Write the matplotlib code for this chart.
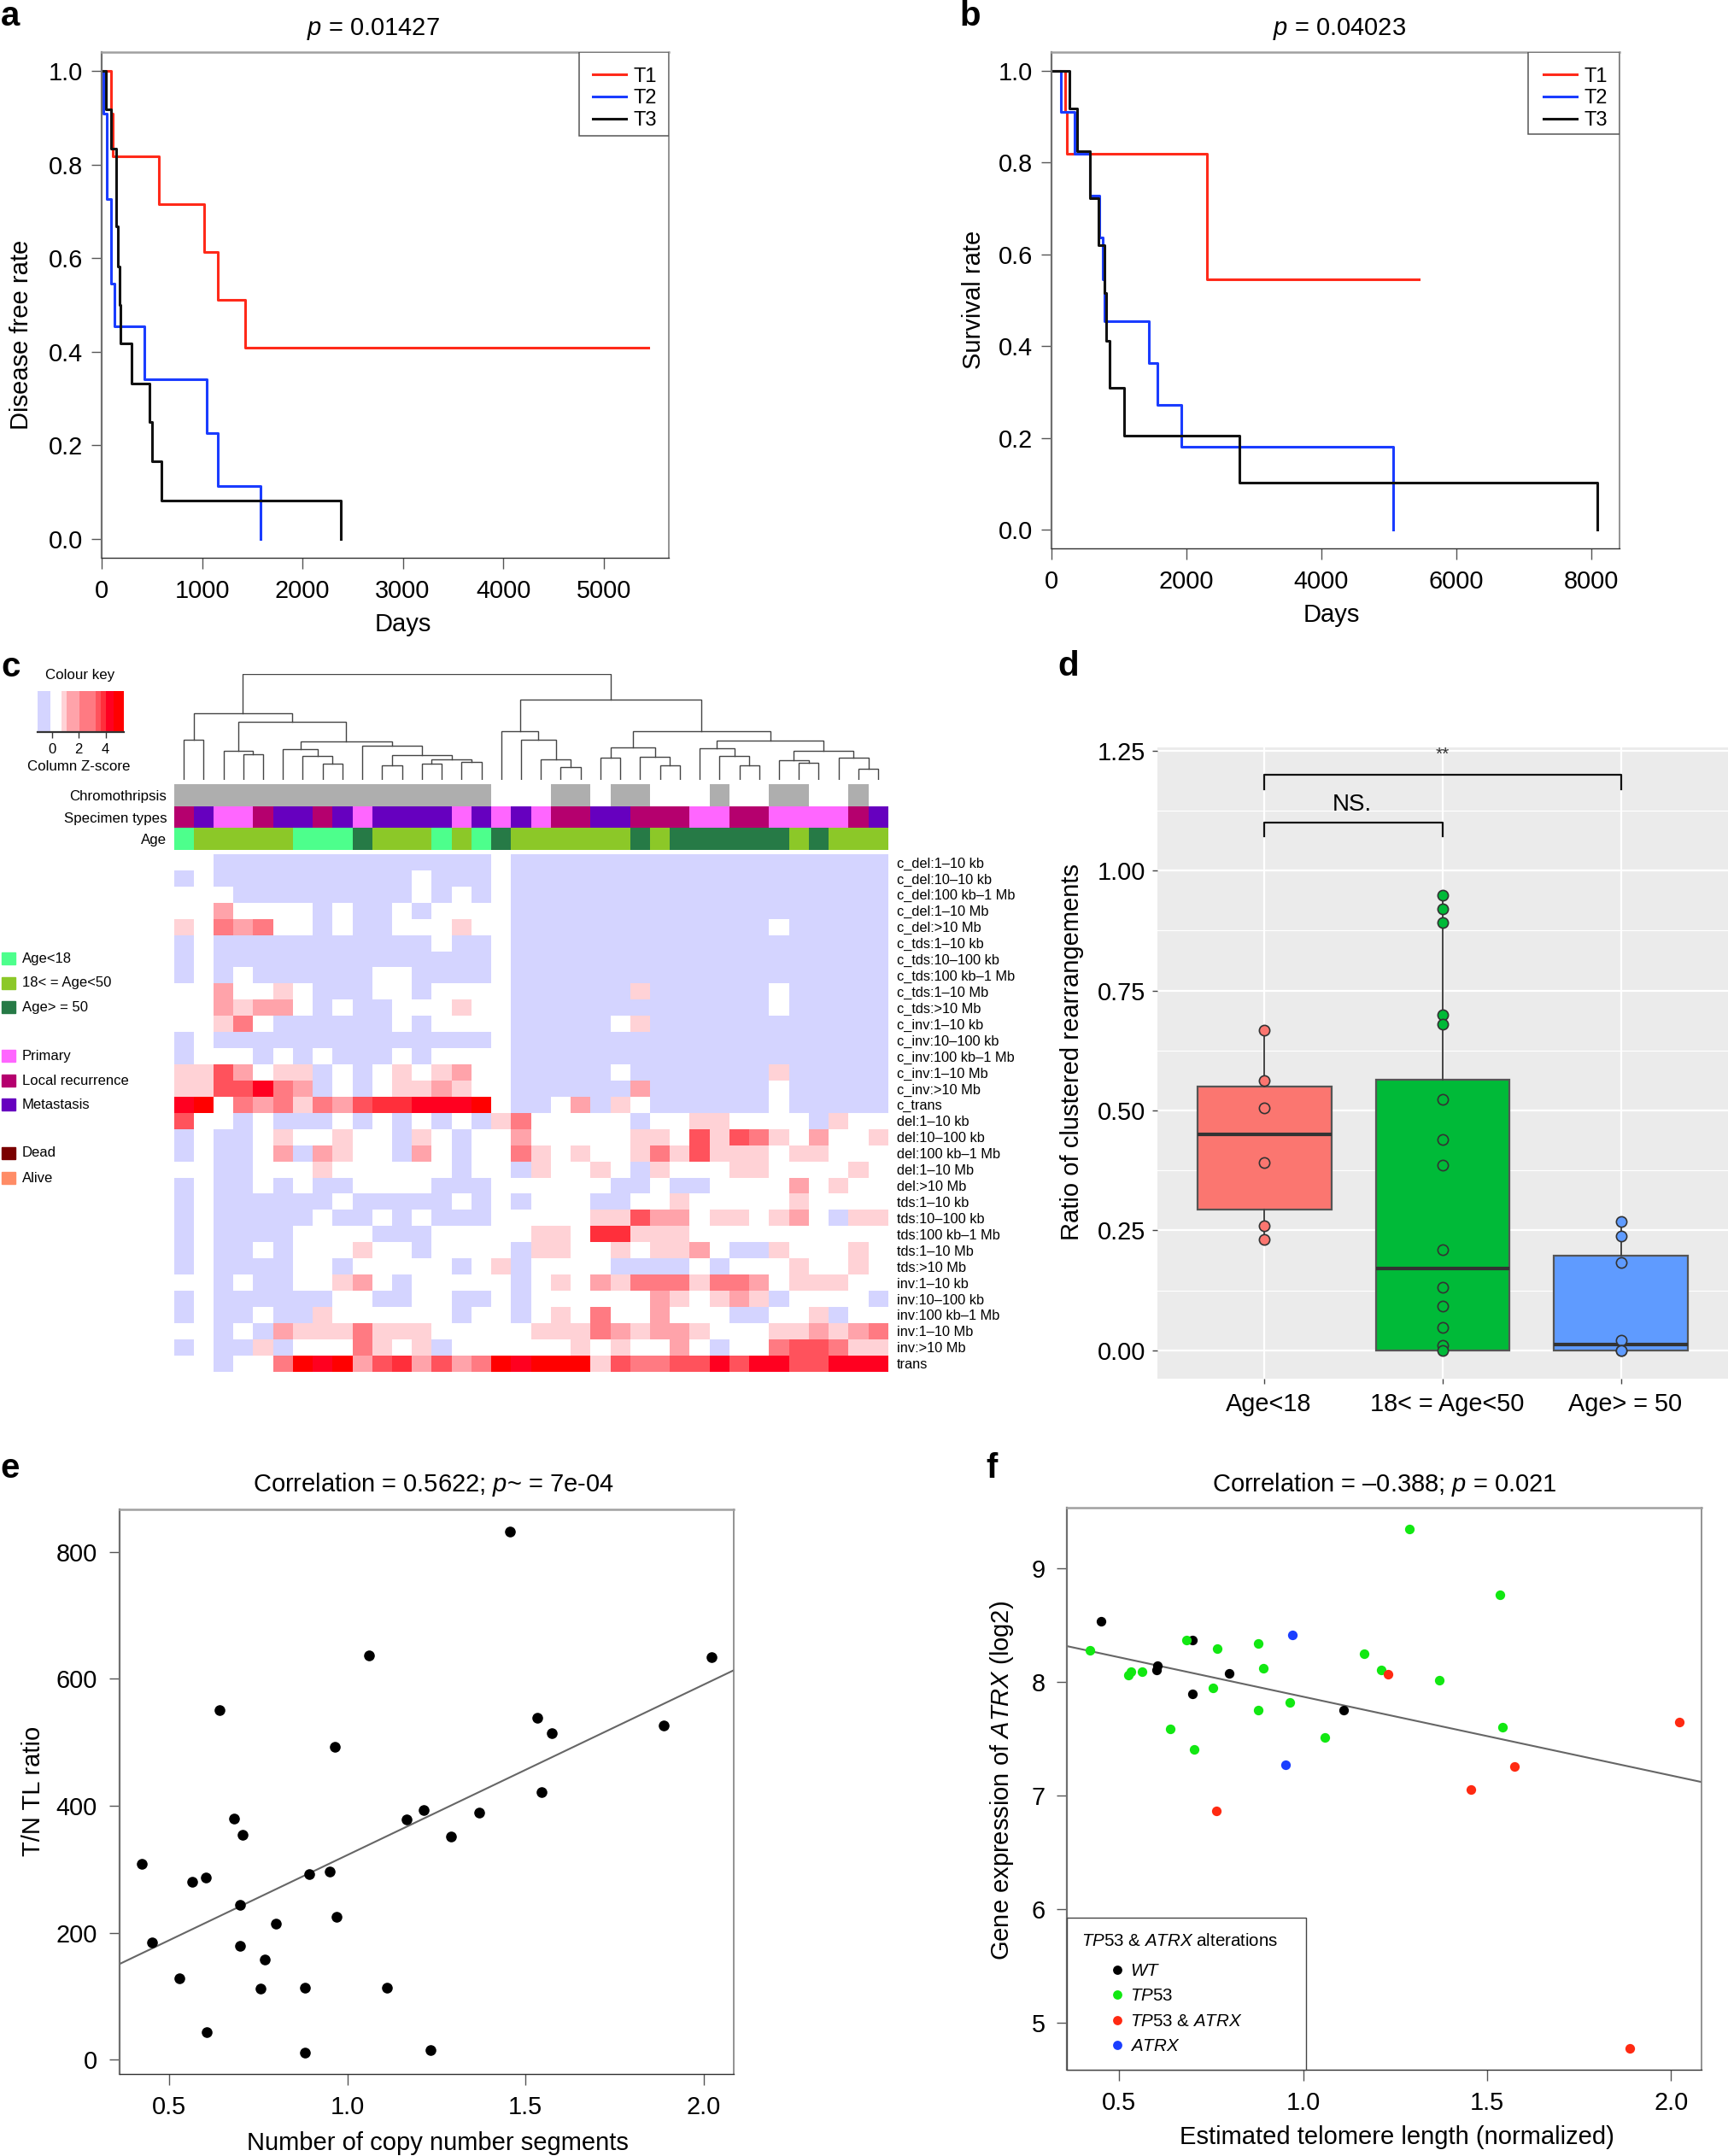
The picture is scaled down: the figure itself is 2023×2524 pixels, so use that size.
from matplotlib import pyplot as plt
from matplotlib.colors import ListedColormap
from matplotlib.lines import Line2D
from matplotlib.patches import Rectangle
from matplotlib.transforms import ScaledTranslation
import numpy as np

plt.rcParams['font.family'] = ['Liberation Sans', 'DejaVu Sans']
plt.rcParams['mathtext.fontset'] = 'custom'
plt.rcParams['mathtext.rm'] = 'Liberation Sans'
plt.rcParams['mathtext.it'] = 'Liberation Sans:italic'
plt.rcParams['mathtext.bf'] = 'Liberation Sans:bold'

W, H = 2023, 2524

# panel a: disease free
a_t1_days = [0, 95, 113, 569, 1025, 1160, 1429, 5443]
a_t1_rate = [1.0, 0.909, 0.818, 0.716, 0.614, 0.511, 0.409, 0.409]
a_t2_days = [0, 17, 48, 52, 96, 130, 426, 1043, 1160, 1581]
a_t2_rate = [1.0, 0.909, 0.818, 0.727, 0.545, 0.4545, 0.341, 0.227, 0.114, 0.0]
a_t3_days = [0, 43, 91, 148, 165, 182, 191, 300, 478, 500, 595, 2380]
a_t3_rate = [1.0, 0.917, 0.833, 0.667, 0.583, 0.5, 0.417, 0.333, 0.25, 0.167, 0.083, 0.0]

# panel b: survival
b_t1_days = [0, 200, 225, 2299, 5443]
b_t1_rate = [1.0, 0.909, 0.818, 0.545, 0.545]
b_t2_days = [0, 136, 342, 568, 704, 762, 781, 1440, 1569, 1924, 5062]
b_t2_rate = [1.0, 0.909, 0.818, 0.727, 0.636, 0.545, 0.4545, 0.364, 0.273, 0.182, 0.0]
b_t3_days = [0, 265, 381, 568, 697, 781, 807, 865, 1078, 2783, 8090]
b_t3_rate = [1.0, 0.917, 0.825, 0.722, 0.619, 0.516, 0.412, 0.31, 0.206, 0.103, 0.0]

# panel c: heatmap, b = below zero, 0 = white, 1-7 = red levels
heat_rows = [
    "00 bbbbbbbbbbbbbb 0 bbbbbbbbbbbbbbbbbbb",
    "b0 bbbbbbbbbb 0 bbb 0 bbbbbbbbbbbbbbbbbbb",
    "000 bbbbbbbbb 0 b 0 b 0 bbbbbbbbbbbbbbbbbbb",
    "00 2 0000 b 0 bb 0 b 0000 bbbbbbbbbbbbbbbbbbb",
    "1 0 3 2 3 00 b 0 bb 000 1 00 bbbbbbbbbbbbb 0 bbbbb",
    "b0 bbbbbbbbbbb 0 bb 0 bbbbbbbbbbbbbbbbbbb",
    "b0 bbbbbbbbbbbbbb 0 bbbbbbbbbbbbbbbbbbb",
    "b0 b 0 bbbbbb 00 bbbb 0 bbbbbbbbbbbbbbbbbbb",
    "00 2 00 1 0 bbb 00 b 0000 bbbbbb 1 bbbbbb 0 bbbbb",
    "00 2 1 22 0 b 0 bb 000 1 00 bbbbbbbbbbbbb 0 bbbbb",
    "00 1 3 0 bbbbbb 0 b 0000 bbbbb 0 1 bbbbbbbbbbbb",
    "b0 bbbbbbbbbbbbbb 0 bbbbbbbbbbbbbbbbbbb",
    "b 000 b 0 b 0 bbb 0 b 0000 bbbbbbbbbbbbbbbbbbb",
    "11 4 2 0 11 b 0 b 0 1 0 1 2 00 bbbbb 0 bbbbbbb 1 bbbbb",
    "11 44 6 3 2 b 0 b 0 11 2 1 00 bbbbbb 2 bbbbbb 0 bbbbb",
    "6 7 0 3 2 3 1 3 2 4 55 666 7 0 bb 0 2 b 1 0 bbbbbb 0 bbbbb",
    "4 00 b 0 bbb 0 b 0 b 0 b 0 b 1 3 00000 b 00 11 0000 b 1 00",
    "b 0 bb 0 1 00 1 00 b 1 0 b 00 2 00000 11 0 4 1 4 3 1 0 2 00 1",
    "b 0 bb 0 2 b 2 1 00 b 2 0 b 00 3 1 0 1 00 1 3 1 4 111 0 11 000",
    "00 bb 000 1 000000 b 00 b 1 00 1 0 b 1 000 11 0000 1 0",
    "b 0 bb 0 b 0 bb 0000 bbb 000000 bb 0 bb 0000 2 0 1 00",
    "b 0 bbbbbb 0 bbbbb 0 b 0 b 000 bb 00 1 00000 1 0000",
    "b 0 bbbbb 0 bb 0 b 0 bbb 00000 11 4 22 0 11 0 1 2 0 b 11",
    "b 0 bbbb 0000 bbb 00000 11 0 55 111 0000000000",
    "b 0 bb 0 b 000 1 00 b 0000 b 11 00 1 0 11 2 0 bb 1 000 1 0",
    "b 0 bbbb 00 b 00000 b 0 1 b 0000 bbbb 0 b 000 1 00 1 0",
    "00 b 0 bb 00 1 2 0 b 00000 b 0 1 0 2 1 333 1 33 2 0 111 00",
    "b 0 bbbbbb 00 bb 00 bb 0 b 000000 2 1 0 1 2 1 b 0000 b",
    "b 0 bb 0 bb 1 000000 b 00 b 0 1 0 3 00 2 000 bb 00 1 b 00",
    "00 b 0 b 2 111 3 111 00000 111 3 2 1 22 1 000 11 2 1 2 3",
    "b 0 bb 1 b 000 3 1 0 1 b 000000 1 0 1 00 2 0 b 00 3 44 3 11",
    "00 b 00 3 7 6 7 2 4 5 2 4 2 3 7 6 777 1 4 33 44 6 4 66 44 666",
]
heat_labels = [
    "c_del:1–10 kb", "c_del:10–10 kb", "c_del:100 kb–1 Mb", "c_del:1–10 Mb", "c_del:>10 Mb",
    "c_tds:1–10 kb", "c_tds:10–100 kb", "c_tds:100 kb–1 Mb", "c_tds:1–10 Mb", "c_tds:>10 Mb",
    "c_inv:1–10 kb", "c_inv:10–100 kb", "c_inv:100 kb–1 Mb", "c_inv:1–10 Mb", "c_inv:>10 Mb",
    "c_trans",
    "del:1–10 kb", "del:10–100 kb", "del:100 kb–1 Mb", "del:1–10 Mb", "del:>10 Mb",
    "tds:1–10 kb", "tds:10–100 kb", "tds:100 kb–1 Mb", "tds:1–10 Mb", "tds:>10 Mb",
    "inv:1–10 kb", "inv:10–100 kb", "inv:100 kb–1 Mb", "inv:1–10 Mb", "inv:>10 Mb",
    "trans",
]
heat_colors = ['#D4D4FF', '#FFFFFF', '#FFD2D6', '#FFA3AA', '#FF7A82',
               '#FF525C', '#FF2F3B', '#FF0020', '#FF0000']
key_bounds = [-1.07, -0.1, 0.73, 1.12, 2.05, 3.27, 3.66, 4.0, 4.6, 5.37]

chromothripsis = "1111111111111111 000 11 0 11 000 1 00 11 00 1 0"
specimen_types = "LMPPLMMLMPMMMMPMPMPLLMMLLLPPLLPPPPLM"
age_groups = "YAAAAAYYYOAAAYAYOAAAAAAOAOOOOOOAOAAA"
bar_names = ['Chromothripsis', 'Specimen types', 'Age']

# dendrogram merges: (left, right, height), leaves are column numbers
node_a = (0, 1, 0.382)
node_b = (2, (3, 4, 0.241), 0.273)
node_c = (5, (6, (7, 8, 0.152), 0.227), 0.294)
node_d = (9, ((10, 11, 0.136), ((12, 13, 0.152), (14, 15, 0.171), 0.2), 0.235), 0.329)
node_g = (node_a, (node_b, (node_c, node_d, 0.366), 0.548), 0.628)
node_h = (16, (17, (18, (19, 20, 0.126), 0.2), 0.38), 0.465)
node_i = ((21, 22, 0.214), (23, (24, 25, 0.136), 0.217), 0.307)
node_j = (26, (27, (28, 29, 0.136), 0.227), 0.302)
node_k = ((30, (31, 32, 0.166), 0.19), (33, (34, 35, 0.11), 0.214), 0.275)
node_n = (node_h, (node_i, (node_j, node_k, 0.374), 0.465), 0.759)
dendro_root = (node_g, node_n, 1.0)

legend_c_labels = ['Age<18', '18< = Age<50', 'Age> = 50', 'Primary',
                   'Local recurrence', 'Metastasis', 'Dead', 'Alive']
legend_c_colors = ['#4DFF8C', '#8CC828', '#267A46', '#FF66FF',
                   '#B5006E', '#6600BF', '#7A0000', '#FF8C66']

# panel d
d_groups = ['Age<18', '18< = Age<50', 'Age> = 50']
d_colors = ['#FB7670', '#00BA38', '#5F9BFF']
d_points = [
    [0.667, 0.562, 0.505, 0.392, 0.26, 0.231],
    [0.948, 0.921, 0.891, 0.70, 0.679, 0.523, 0.44, 0.387, 0.21, 0.132, 0.092, 0.048, 0.01, 0.0],
    [0.269, 0.239, 0.184, 0.022, 0.0, 0.0],
]
d_q1 = [0.293, 0.0, 0.0]
d_med = [0.45, 0.171, 0.012]
d_q3 = [0.55, 0.564, 0.198]
d_whislo = [0.231, 0.0, 0.0]
d_whishi = [0.667, 0.948, 0.269]

# panel e
e_segments = [1.456, 1.061, 2.022, 0.642, 1.533, 1.888, 1.573, 0.966, 1.544, 0.683, 1.166,
              1.214, 1.371, 0.705, 1.29, 0.423, 0.894, 0.951, 0.603, 0.565, 0.698, 0.969,
              0.8, 0.453, 0.7, 0.768, 0.529, 0.756, 0.88, 1.111, 0.606, 0.88, 1.233]
e_ratio = [832.5, 637.4, 634, 550.5, 539, 527, 514, 493, 422, 380, 378,
           393.6, 389, 354, 352, 309, 292.6, 296, 287, 280.6, 244, 224.7,
           215, 184.5, 180, 158, 128.6, 111.7, 113.8, 113, 43.8, 11.3, 14.8]
e_intercept, e_slope = 54.1, 268.4

# panel f
f_wt_x = [0.451, 0.699, 0.605, 0.601, 0.799, 0.699, 1.11]
f_wt_y = [8.534, 8.369, 8.143, 8.1, 8.072, 7.891, 7.749]
f_tp53_x = [1.288, 1.534, 0.42, 0.682, 0.767, 0.877, 1.165, 0.892, 1.213, 0.532,
            0.526, 0.563, 1.37, 0.755, 0.965, 0.877, 1.543, 0.638, 1.059, 0.704]
f_tp53_y = [9.344, 8.767, 8.278, 8.369, 8.29, 8.333, 8.242, 8.116, 8.1, 8.088,
            8.06, 8.088, 8.009, 7.942, 7.816, 7.749, 7.598, 7.587, 7.507, 7.405]
f_both_x = [1.232, 2.022, 1.574, 1.455, 0.765, 1.888]
f_both_y = [8.064, 7.646, 7.255, 7.05, 6.86, 4.771]
f_atrx_x = [0.97, 0.952]
f_atrx_y = [8.408, 7.271]
f_intercept, f_slope = 8.561, -0.6933


def add_px(left, top, right, bottom):
    return fig.add_axes([left / W, 1 - bottom / H, (right - left) / W, (bottom - top) / H])


def put(x, y, s, **kw):
    kw.setdefault('ha', 'center')
    kw.setdefault('va', 'center')
    kw.setdefault('fontsize', 21)
    return fig.text(x / W, 1 - y / H, s, **kw)


def r_style(ax, ypad=7):
    for side, col, lw in (('top', '#A0A0A0', 1.8), ('left', '#707070', 1.6),
                          ('right', '#808080', 1.2), ('bottom', '#303030', 1.0)):
        ax.spines[side].set_color(col)
        ax.spines[side].set_linewidth(lw)
    ax.tick_params(axis='both', labelsize=20.8, length=9, width=1, color='#555555')
    ax.tick_params(axis='x', pad=9)
    ax.tick_params(axis='y', pad=ypad)


def km_panel(ax, curves, box_w, box_h):
    for (days, rate), col in zip(curves, ['#FF2A1A', '#1A3CFF', '#111111']):
        ax.plot(days, rate, drawstyle='steps-post', color=col, lw=2.2)
    # legend frame is a separate box, its padding is not even in the original
    ax.add_patch(Rectangle((1 - box_w, 1 - box_h), box_w, box_h, transform=ax.transAxes,
                           facecolor='white', edgecolor='#555555', lw=1.1, zorder=5))
    handles = [Line2D([], [], color=c, lw=2.2) for c in ['#FF2A1A', '#1A3CFF', '#111111']]
    ax.legend(handles, ['T1', 'T2', 'T3'], loc='upper right', bbox_to_anchor=(1.005, 1.0),
              fontsize=17, borderaxespad=0, frameon=False, handlelength=1.65,
              handletextpad=0.35, labelspacing=0.15, borderpad=0.75).set_zorder(6)
    ax.set_yticks([0, 0.2, 0.4, 0.6, 0.8, 1.0])
    ax.set_ylim(-0.04, 1.04)
    r_style(ax)


def draw_node(ax, node):
    # returns x of the node, draws the bracket under it
    if not isinstance(node, tuple):
        return node + 0.5, 0.0
    xl, hl = draw_node(ax, node[0])
    xr, hr = draw_node(ax, node[1])
    h = node[2]
    ax.plot([xl, xl, xr, xr], [hl, h, h, hr], color='#444444', lw=1.0, solid_joinstyle='miter')
    return (xl + xr) / 2, h


fig = plt.figure(figsize=(W / 100, H / 100), dpi=100, facecolor='white')

# a
ax = add_px(119, 61, 783, 653)
km_panel(ax, [(a_t1_days, a_t1_rate), (a_t2_days, a_t2_rate), (a_t3_days, a_t3_rate)], 0.1587, 0.166)
ax.set_xlim(0, 5650)
ax.set_xticks([0, 1000, 2000, 3000, 4000, 5000])
put(437, 34, r'$\mathit{p}$ = 0.01427')
put(472, 731, 'Days')
put(25, 392, 'Disease free rate', rotation=90)

# b
ax = add_px(1231, 61, 1896, 642)
km_panel(ax, [(b_t1_days, b_t1_rate), (b_t2_days, b_t2_rate), (b_t3_days, b_t3_rate)], 0.161, 0.165)
ax.set_xlim(0, 8418)
ax.set_xticks([0, 2000, 4000, 6000, 8000])
put(1568, 34, r'$\mathit{p}$ = 0.04023')
put(1559, 720, 'Days')
put(1140, 351, 'Survival rate', rotation=90)

# c heatmap
codes = {'b': 0, '0': 1}
codes.update({str(i): i + 1 for i in range(1, 8)})
heat = np.array([[codes[c] for c in row.replace(' ', '')] for row in heat_rows])
heat_cmap = ListedColormap(heat_colors)
ax = add_px(203.5, 1000, 1039.8, 1605.7)
ax.pcolormesh(np.arange(37), np.arange(33), heat, cmap=heat_cmap, vmin=-0.5, vmax=8.5)
ax.set_ylim(32, 0)
ax.set_xticks([])
ax.yaxis.tick_right()
ax.set_yticks(np.arange(32) + 0.5)
ax.set_yticklabels(heat_labels, fontsize=11.8)
ax.tick_params(axis='y', length=0, pad=7)
for s in ax.spines.values():
    s.set_visible(False)

# c side bars
bar_palette = {'0': '#FFFFFF', '1': '#AEAEAE', 'L': '#B5006E', 'M': '#6600BF', 'P': '#FF66FF',
               'Y': '#4DFF8C', 'A': '#8CC828', 'O': '#267A46'}
bar_keys = list(bar_palette)
bars = np.array([[bar_keys.index(c) for c in row.replace(' ', '')]
                 for row in (chromothripsis, specimen_types, age_groups)])
ax = add_px(203.5, 918, 1039.8, 995)
ax.pcolormesh(np.arange(37), np.arange(4), bars, cmap=ListedColormap(list(bar_palette.values())),
              vmin=-0.5, vmax=len(bar_keys) - 0.5)
ax.set_ylim(3, 0)
ax.set_xticks([])
ax.set_yticks([0.5, 1.5, 2.5])
ax.set_yticklabels(bar_names, fontsize=12.2)
ax.tick_params(axis='y', length=0, pad=6)
for s in ax.spines.values():
    s.set_visible(False)

# c dendrogram
ax = add_px(203.5, 788.7, 1039.8, 913.3)
draw_node(ax, dendro_root)
ax.set_xlim(0, 36)
ax.set_ylim(0, 1.005)
ax.axis('off')

# c colour key
ax = add_px(44, 809, 145, 857)
ax.pcolormesh(key_bounds, [0, 1], [np.arange(9)], cmap=heat_cmap, vmin=-0.5, vmax=8.5)
ax.set_xticks([0, 2, 4])
ax.set_yticks([])
ax.tick_params(axis='x', labelsize=12, length=5, width=1, color='#333333', pad=4)
for side in ('top', 'left', 'right'):
    ax.spines[side].set_visible(False)
ax.spines['bottom'].set_color('#333333')
ax.spines['bottom'].set_linewidth(1.6)
put(94, 791, 'Colour key', fontsize=12.2)
put(92, 897, 'Column Z-score', fontsize=12.2)

# c side legend
legend_c_y = [1122, 1151, 1179, 1236, 1265, 1293, 1350, 1379]
for lab, col, y in zip(legend_c_labels, legend_c_colors, legend_c_y):
    fig.patches.append(Rectangle((1.5 / W, 1 - (y + 7) / H), 16 / W, 14 / H, color=col,
                                 transform=fig.transFigure))
    put(25.5, y, lab, ha='left', fontsize=12)

# d
ax = add_px(1355, 874.8, 2023, 1613.6)
ax.set_facecolor('#EBEBEB')
stats = [dict(med=m, q1=a, q3=b, whislo=lo, whishi=hi, fliers=[])
         for m, a, b, lo, hi in zip(d_med, d_q1, d_q3, d_whislo, d_whishi)]
boxes = ax.bxp(stats, positions=[0, 1, 2], widths=0.75, patch_artist=True, showcaps=False,
               showfliers=False, manage_ticks=False,
               boxprops=dict(edgecolor='#555555', linewidth=1.6),
               whiskerprops=dict(color='#444444', linewidth=1.4),
               medianprops=dict(color='#333333', linewidth=3, solid_capstyle='butt'))
for box, col in zip(boxes['boxes'], d_colors):
    box.set_facecolor(col)
for i, (pts, col) in enumerate(zip(d_points, d_colors)):
    ax.scatter([i] * len(pts), pts, s=78, color=col, edgecolor='#333333', linewidth=1.2, zorder=4)
ax.plot([0, 0, 2, 2], [1.17, 1.2, 1.2, 1.17], color='#111111', lw=1.6)
ax.plot([0, 0, 1, 1], [1.071, 1.1, 1.1, 1.071], color='#111111', lw=1.6)
ax.text(0.49, 1.137, 'NS.', ha='center', va='center', fontsize=20)
ax.text(1, 1.241, '**', ha='center', va='center', fontsize=15, color='#333333')
ax.set_xlim(-0.6, 2.6)
ax.set_ylim(-0.0582, 1.257)
ax.set_xticks([0, 1, 2])
ax.set_xticklabels(d_groups)
ax.set_yticks([0, 0.25, 0.5, 0.75, 1.0, 1.25])
ax.set_yticklabels(['0.00', '0.25', '0.50', '0.75', '1.00', '1.25'])
ax.set_yticks([0.125, 0.375, 0.625, 0.875, 1.125], minor=True)
ax.set_axisbelow(True)
ax.grid(which='major', color='white', lw=1.6)
ax.grid(which='minor', axis='y', color='white', lw=0.8)
ax.tick_params(axis='both', which='major', labelsize=20.8, length=4, width=1, color='#444444')
ax.tick_params(axis='x', pad=8)
ax.tick_params(axis='y', pad=6)
ax.tick_params(which='minor', length=0)
for s in ax.spines.values():
    s.set_visible(False)
# group labels sit slightly right of their ticks
for lab in ax.get_xticklabels():
    lab.set_transform(lab.get_transform() + ScaledTranslation(0.05, 0, fig.dpi_scale_trans))
put(1255, 1232, 'Ratio of clustered rearrangements', rotation=90, fontsize=21)

# e
ax = add_px(140, 1767, 859, 2427.8)
ax.scatter(e_segments, e_ratio, s=82, color='black', linewidth=0, zorder=3)
ax.axline((0, e_intercept), slope=e_slope, color='#666666', lw=1.5)
ax.set_xlim(0.361, 2.084)
ax.set_ylim(-22, 866.8)
ax.set_xticks([0.5, 1.0, 1.5, 2.0])
ax.set_yticks([0, 200, 400, 600, 800])
r_style(ax, ypad=10)
put(507, 1738, r'Correlation = 0.5622; $\mathit{p}$~ = 7e-04')
put(512, 2509, 'Number of copy number segments')
put(39, 2097, 'T/N TL ratio', rotation=90)

# f
ax = add_px(1249, 1765, 1992, 2422.5)
f_series = [(f_wt_x, f_wt_y, 'black'), (f_tp53_x, f_tp53_y, '#12E812'),
            (f_both_x, f_both_y, '#FF2A12'), (f_atrx_x, f_atrx_y, '#1B3FFF')]
for xs, ys, col in f_series:
    ax.scatter(xs, ys, s=66, color=col, linewidth=0, zorder=3)
ax.axline((0, f_intercept), slope=f_slope, color='#666666', lw=1.5)
ax.set_xlim(0.358, 2.083)
ax.set_ylim(4.589, 9.531)
ax.set_xticks([0.5, 1.0, 1.5, 2.0])
ax.set_yticks([5, 6, 7, 8, 9])
r_style(ax, ypad=9)
handles = [Line2D([], [], ls='', marker='o', ms=7.8, mew=0, color=s[2]) for s in f_series]
labels = [r'$\mathit{WT}$', r'$\mathit{TP53}$', r'$\mathit{TP53}$ & $\mathit{ATRX}$', r'$\mathit{ATRX}$']
leg = ax.legend(handles, labels, loc='lower left', bbox_to_anchor=(0, 0, 0.3763, 1), mode='expand',
                fontsize=14.8, title=r'$\mathit{TP53}$ & $\mathit{ATRX}$ alterations',
                title_fontsize=14.8, alignment='left', borderaxespad=0, fancybox=False,
                framealpha=1, edgecolor='#444444', labelspacing=0.5, borderpad=0.85,
                handletextpad=-1.25, handlelength=4.0)
leg._legend_box.sep = 12
put(1621, 1738, r'Correlation = –0.388; $\mathit{p}$ = 0.021')
put(1635, 2502, 'Estimated telomere length (normalized)')
put(1173, 2084, r'Gene expression of $\mathit{ATRX}$ (log2)', rotation=90)

# panel letters
for lab, x, y in (('a', 1, 30), ('b', 1123, 30), ('c', 1, 792), ('d', 1238, 791),
                  ('e', 0, 1730), ('f', 1154, 1730)):
    put(x, y, lab, ha='left', va='baseline', fontsize=29, fontweight='bold')

fig.savefig('out.png', dpi=100)
